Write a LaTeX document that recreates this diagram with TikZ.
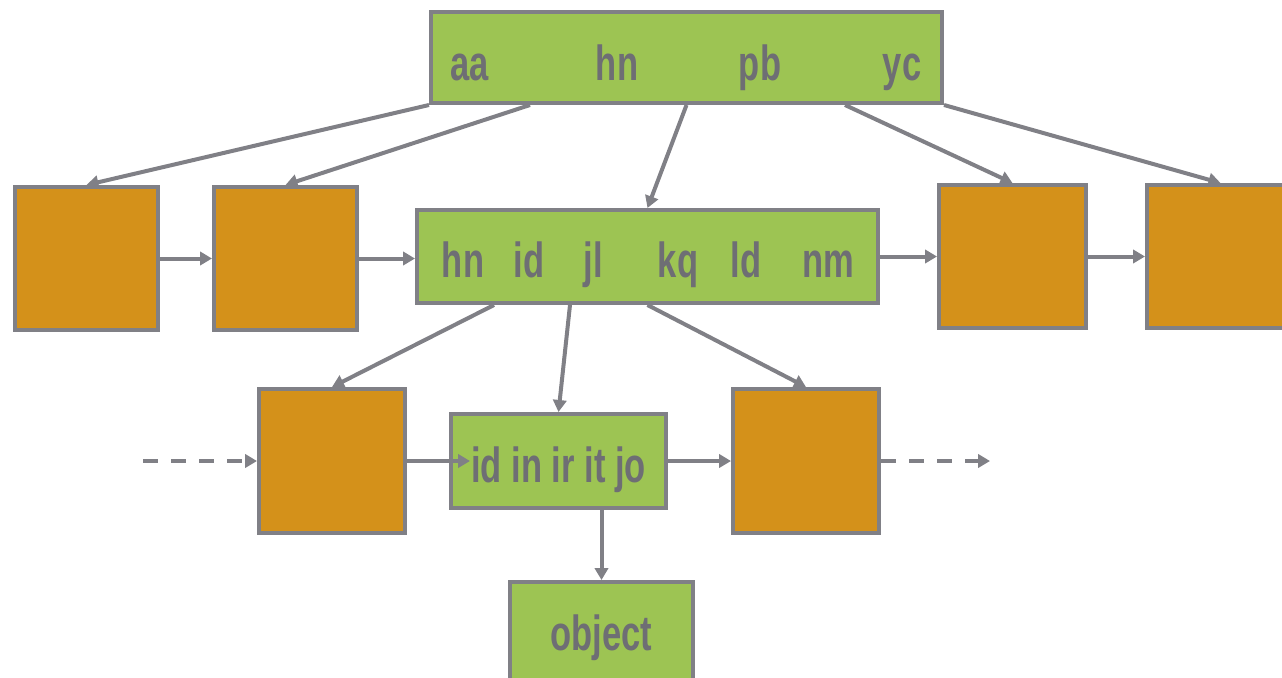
\documentclass[tikz,border=0pt]{standalone}
\usepackage{fontspec}
\setmainfont{Liberation Sans}[BoldFont={* Bold}, BoldFeatures={FakeStretch=0.7}]
\usetikzlibrary{arrows.meta}

\definecolor{leafgreen}{HTML}{9DC453}
\definecolor{keyorange}{HTML}{D4911A}
\definecolor{edgegray}{HTML}{808086}
\definecolor{labelgray}{HTML}{6E6E74}

\tikzset{
  keybox/.style={draw=edgegray, line width=3pt, fill=leafgreen, inner sep=0pt},
  pagebox/.style={draw=edgegray, line width=3pt, fill=keyorange, inner sep=0pt,
                   minimum width=107.25pt, minimum height=107.25pt},
  keylabel/.style={text=labelgray, font=\bfseries\fontsize{37}{40}\selectfont,
                   anchor=base, inner sep=0pt},
  link/.style={draw=edgegray, line width=3pt,
               -{Triangle[length=9pt, width=10pt]}},
  dashlink/.style={link, dash pattern=on 11pt off 10pt},
}

\begin{document}
\begin{tikzpicture}[x=0.75pt, y=-0.75pt]
  \clip (0,0) rectangle (1282,678);
  \useasboundingbox (0,0) rectangle (1282,678);

  % root node
  \node[keybox, minimum width=383.25pt, minimum height=68.25pt] (root) at (686.5,57.5) {};
  \node[keylabel] (r1) at (470,80) {aa};
  \node[keylabel] (r2) at (617,80) {hn};
  \node[keylabel] (r3) at (760,80) {pb};
  \node[keylabel] (r4) at (902,80) {yc};

  % second level
  \node[pagebox] (a1) at (86.5,258.5) {};
  \node[pagebox] (a2) at (285.5,258.5) {};
  \node[keybox, minimum width=345.75pt, minimum height=69.75pt] (mid) at (647.5,256.5) {};
  \node[keylabel] (m1) at (463,277) {hn};
  \node[keylabel] (m2) at (529,277) {id};
  \node[keylabel] (m3) at (593,277) {jl};
  \node[keylabel] (m4) at (678,277) {kq};
  \node[keylabel] (m5) at (746,277) {ld};
  \node[keylabel] (m6) at (828,277) {nm};
  \node[pagebox, minimum width=110.25pt] (b1) at (1012.5,256.5) {};
  \node[pagebox, minimum width=110.25pt] (b2) at (1220.5,256.5) {};

  % third level
  \node[pagebox, minimum width=109.5pt, minimum height=108pt] (c1) at (332,461) {};
  \node[keybox, minimum width=161.25pt, minimum height=70.5pt] (leaf) at (558.5,461) {};
  \node[keylabel] (leaftext) at (558.5,482) {id in ir it jo};
  \node[pagebox, minimum width=109.5pt, minimum height=108pt] (c2) at (806,461) {};

  % object (runs past the lower edge)
  \node[keybox, minimum width=137.25pt, minimum height=82.5pt] (obj) at (601.5,637) {};
  \node[keylabel] (objtext) at (601.5,650) {object};

  % loose ends of the sibling chain
  \coordinate (inL) at (143,461);
  \coordinate (inLeaf) at (470,461);
  \coordinate (outR) at (990,461);

  % root to children
  \draw[link] (root.south west) -- (a1.north);
  \draw[link] ([xshift=75.75pt]root.south west) -- (a2.north);
  \draw[link] (root.south) -- (mid.north);
  \draw[link] ([xshift=-74.25pt]root.south east) -- (b1.north);
  \draw[link] (root.south east) -- (b2.north);

  % sibling links, second level
  \draw[link] (a1.east) -- (a2.west);
  \draw[link] (a2.east) -- (a2.east -| mid.west);
  \draw[link] (mid.east) -- (mid.east -| b1.west);
  \draw[link] (b1.east) -- (b2.west);

  % middle node to children
  \draw[link] ([xshift=59.25pt]mid.south west) -- (c1.north);
  \draw[link] ([xshift=116.25pt]mid.south west) -- (leaf.north);
  \draw[link] (mid.south) -- (c2.north);

  % sibling links, third level
  \draw[dashlink] (inL) -- (c1.west);
  \draw[link] (c1.east) -- (inLeaf);
  \draw[link] (leaf.east) -- (c2.west);
  \draw[dashlink] (c2.east) -- (outR);

  % leaf to object
  \draw[link] (obj.north |- leaf.south) -- (obj.north);
\end{tikzpicture}
\end{document}
